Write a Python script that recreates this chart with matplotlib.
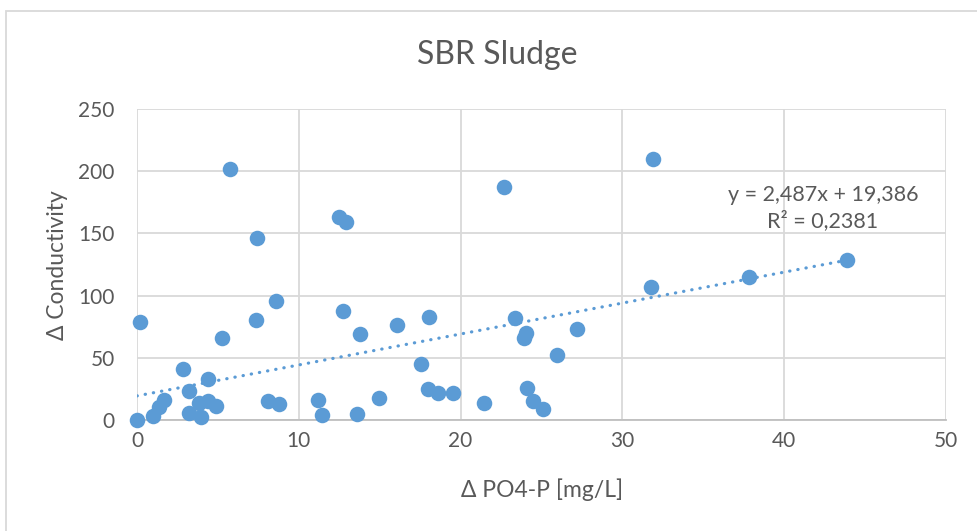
import numpy as np
import matplotlib
matplotlib.use("Agg")
import matplotlib.pyplot as plt
from matplotlib.patches import Rectangle

# measured pairs: phosphate release vs conductivity change
po4 = [0.0, 0.97, 1.35, 1.67, 2.85, 3.2, 4.4, 3.2, 3.96, 3.85, 4.4, 4.88,
       5.77, 7.4, 7.36, 8.57, 5.27, 0.18, 8.07, 8.77, 12.46, 12.9, 12.76,
       13.76, 11.16, 11.43, 13.57, 14.95, 16.07, 18.07, 17.58, 18.0, 18.58,
       19.5, 21.47, 22.66, 23.36, 24.04, 23.94, 27.19, 25.96, 24.08, 24.45,
       25.07, 31.87, 31.75, 37.8, 43.86]
cond = [0, 3.2, 10.5, 16, 41, 23.5, 33, 6, 2.5, 13.4, 15, 11.5,
        202, 146, 80, 96, 66, 79, 15, 13, 163, 159, 88,
        69, 16, 4, 4.5, 18, 76, 83, 45, 25, 22,
        22, 14, 187, 82, 70, 66, 73, 52, 26, 15,
        9, 210, 107, 115, 129]

# linear trendline as reported
slope = 2.487
intercept = 19.386
r2 = 0.2381

xticks = [0, 10, 20, 30, 40, 50]
yticks = [0, 50, 100, 150, 200, 250]

blue = "#5B9BD5"
grey_txt = "#595959"
grid_col = "#D9D9D9"

plt.rcParams['font.family'] = ['Lato', 'DejaVu Sans']

W, H = 977, 531
fig = plt.figure(figsize=(W / 100, H / 100), dpi=100)
ax = fig.add_axes([137 / W, 1 - 420 / H, (946 - 137) / W, (420 - 109) / H])

ax.set_xlim(0, 50)
ax.set_ylim(0, 250)
ax.set_xticks(xticks)
ax.set_yticks(yticks)
ax.grid(True, color=grid_col, linewidth=1.3)
ax.set_axisbelow(True)
for side in ['top', 'right', 'left']:
    ax.spines[side].set_visible(False)
ax.spines['bottom'].set_color("#BFBFBF")
ax.spines['bottom'].set_linewidth(1.3)
ax.tick_params(length=0, labelsize=15, labelcolor=grey_txt)
ax.tick_params(axis='y', pad=16)
ax.tick_params(axis='x', pad=8)

ax.scatter(po4, cond, s=125, color=blue, zorder=3, linewidths=0, clip_on=False)

xs = np.array([0, max(po4)])
ax.plot(xs, slope * xs + intercept, color=blue, linewidth=2.3,
        linestyle=(0, (0.1, 2.5)), dash_capstyle='round', zorder=4)

eq = "y = {:.3f}x + {:.3f}\nR² = {:.4f}".format(slope, intercept, r2).replace('.', ',')
fig.text(823 / W, 1 - 208 / H, eq, ha='center', va='center',
         multialignment='center', fontsize=15.5, color=grey_txt, linespacing=1.3)

fig.text(497 / W, 1 - 55 / H, "SBR Sludge", ha='center', va='center',
         fontsize=23, color=grey_txt)
fig.text(542 / W, 1 - 490 / H, "Δ PO4-P [mg/L]", ha='center', va='center',
         fontsize=16.5, color=grey_txt)
fig.text(58 / W, 1 - 265 / H, "Δ Conductivity", ha='center', va='center',
         rotation=90, fontsize=16.5, color=grey_txt)

# chart area frame
fig.patches.append(Rectangle((5.5 / W, -0.1), 1.2, 1 - 10.5 / H + 0.1,
                             transform=fig.transFigure, fill=False,
                             edgecolor=grid_col, linewidth=1.3))

fig.savefig("out.png", dpi=100)
